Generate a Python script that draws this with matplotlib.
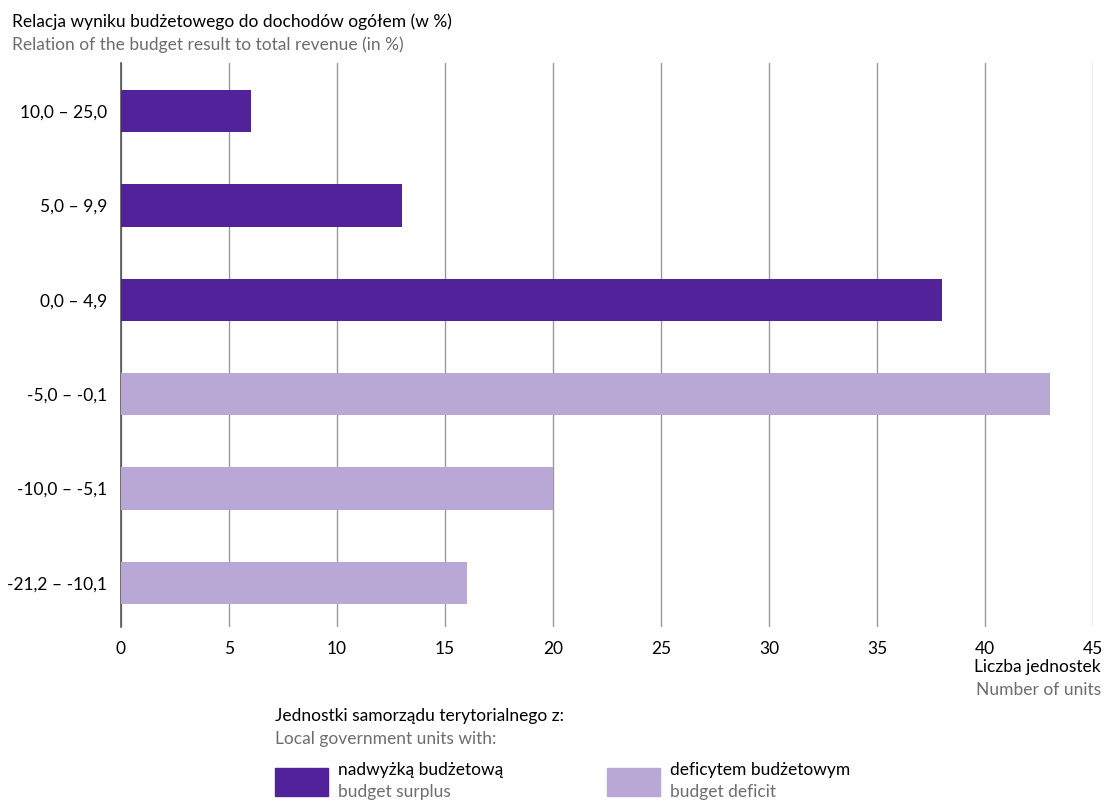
import matplotlib.pyplot as plt
from matplotlib.patches import Rectangle

plt.rcParams['font.family'] = ['Lato', 'DejaVu Sans']

categories = ["10,0 – 25,0", "5,0 – 9,9", "0,0 – 4,9", "-5,0 – -0,1", "-10,0 – -5,1", "-21,2 – -10,1"]
values = [6, 13, 38, 43, 20, 16]
surplus = [True, True, True, False, False, False]
xticks = [0, 5, 10, 15, 20, 25, 30, 35, 40, 45]

dark = "#52229a"
light = "#b9a8d6"
grey_text = "#6d6d6d"

fig = plt.figure(figsize=(11.04, 8.01), dpi=100)
ax = fig.add_axes([0.1096, 0.217, 0.8804, 0.7043])

colors = [dark if s else light for s in surplus]
ax.barh(range(len(categories)), values, height=0.45, color=colors, zorder=3)

ax.set_xlim(0, 45)
ax.set_ylim(5.47, -0.51)
ax.set_xticks(xticks)
ax.set_yticks(range(len(categories)))
ax.set_yticklabels(categories)
ax.tick_params(axis='both', length=0, labelsize=12.5, colors='black')
ax.tick_params(axis='x', pad=10)
ax.tick_params(axis='y', pad=10)
ax.grid(axis='x', color='#9a9a9a', linewidth=1, zorder=0)
for s in ['top', 'right', 'bottom']:
    ax.spines[s].set_visible(False)
ax.spines['left'].set_color('#555555')
ax.spines['left'].set_linewidth(1.2)

fig.text(12 / 1104, 1 - 22 / 801, "Relacja wyniku budżetowego do dochodów ogółem (w %)",
         fontsize=12.5, va='center', ha='left')
fig.text(12 / 1104, 1 - 45 / 801, "Relation of the budget result to total revenue (in %)",
         fontsize=12.5, va='center', ha='left', color=grey_text)

fig.text(1101 / 1104, 1 - 667 / 801, "Liczba jednostek", fontsize=12.5, ha='right', va='center')
fig.text(1101 / 1104, 1 - 690 / 801, "Number of units", fontsize=12.5, ha='right', va='center',
         color=grey_text)

fig.text(275 / 1104, 1 - 716 / 801, "Jednostki samorządu terytorialnego z:", fontsize=12.5, va='center')
fig.text(275 / 1104, 1 - 739 / 801, "Local government units with:", fontsize=12.5, va='center',
         color=grey_text)

legend_items = [("nadwyżką budżetową", "budget surplus", dark, 275),
                ("deficytem budżetowym", "budget deficit", light, 607)]
for pl, en, c, x0 in legend_items:
    fig.patches.append(Rectangle((x0 / 1104, 1 - 796 / 801), 53 / 1104, 28 / 801,
                                 transform=fig.transFigure, color=c))
    fig.text((x0 + 63) / 1104, 1 - 770 / 801, pl, fontsize=12.5, va='center')
    fig.text((x0 + 63) / 1104, 1 - 792 / 801, en, fontsize=12.5, va='center', color=grey_text)

fig.savefig("out.png", dpi=100)
